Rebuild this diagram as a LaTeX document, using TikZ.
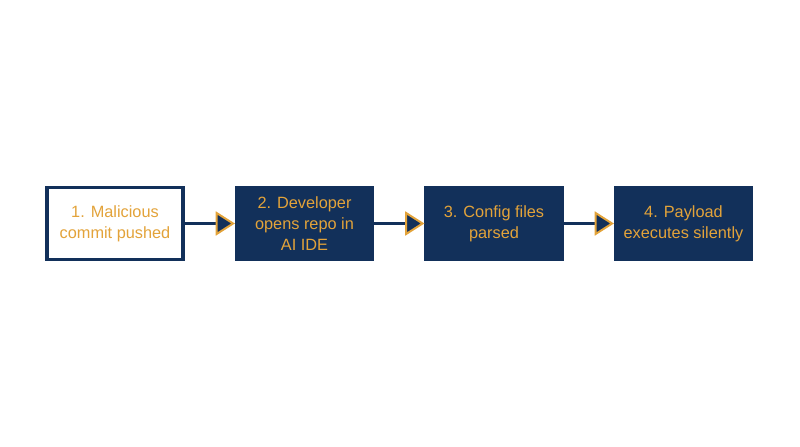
\documentclass[tikz,border=0pt]{standalone}
\usepackage{fontspec}
\setmainfont{Liberation Sans}
\usepackage{xcolor}
\usetikzlibrary{arrows.meta, positioning}
\definecolor{navy}{HTML}{12305A}
\definecolor{gold}{HTML}{E3A33A}

\begin{document}
\begin{tikzpicture}[node distance=1.26cm, thick]
    \tikzset{
        stage/.style={draw=navy, line width=2.2pt, rectangle, minimum width=3.4cm, minimum height=1.8cm, align=center, text=gold, font=\fontsize{11.6}{15}\selectfont},
        darkstage/.style={stage, fill=navy},
        flow/.style={draw=navy, line width=2.2pt, -{Triangle[length=0.48cm, width=0.6cm, fill=navy, color=gold, line width=1.4pt]}}
    }
    \useasboundingbox (-2.875,-5.5875) rectangle (17.125,5.5875);
    % Stages
    \node[stage, fill=white] (Commit) {1. Malicious\\commit pushed};
    \node[darkstage, right=of Commit] (Open) {2. Developer\\opens repo in\\AI IDE};
    \node[darkstage, right=of Open] (Parse) {3. Config files\\parsed};
    \node[darkstage, right=of Parse] (Exec) {4. Payload\\executes silently};
     
    % Flow arrows
    \draw[flow] (Commit.east) -- (Open.west);
    \draw[flow] (Open.east) -- (Parse.west);
    \draw[flow] (Parse.east) -- (Exec.west);
\end{tikzpicture}
\end{document}
